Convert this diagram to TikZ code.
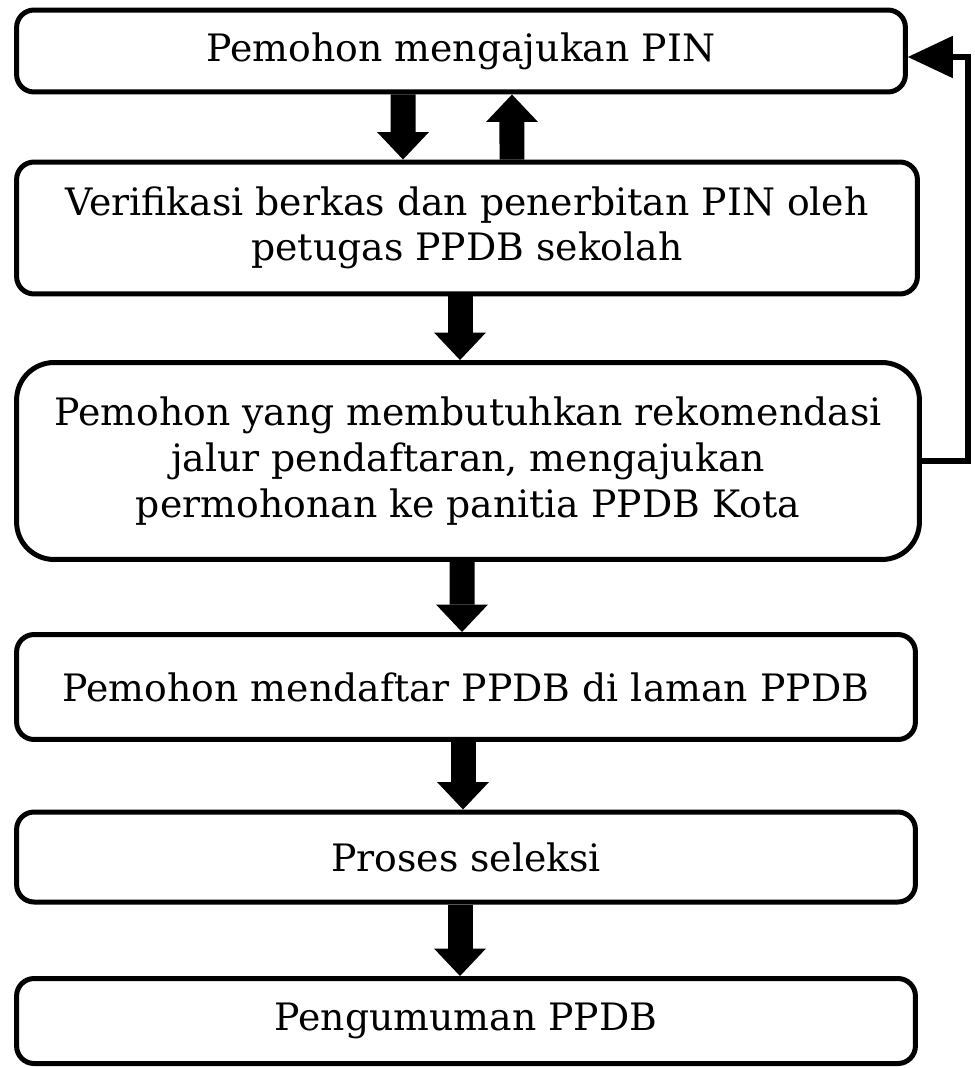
\documentclass[tikz,border=0pt]{standalone}
\usepackage{fontspec}
\setmainfont{DejaVu Serif}
\usetikzlibrary{arrows.meta}
\tikzset{
  box/.style={draw,line width=0.1cm,rounded corners=0.35cm,align=center,
    font=\fontsize{21.5}{26}\selectfont,inner sep=0pt},
  bigarrow/.style={line width=0.5cm,-{Triangle[width=1.04cm,length=0.55cm,line width=0pt]}},
  backline/.style={line width=0.13cm,-{Triangle[width=0.85cm,length=0.9cm,line width=0pt]}}
}
\begin{document}
\begin{tikzpicture}[x=0.02cm,y=-0.02cm]
\useasboundingbox (0,0) rectangle (974,1068);
\node[box,minimum width=17.78cm,minimum height=1.64cm] (pin) at (461,51) {Pemohon mengajukan PIN};
\node[box,minimum width=18.02cm,minimum height=2.64cm] (verif) at (467,228)
  {Verifikasi berkas dan penerbitan PIN oleh\\petugas PPDB sekolah};
\node[box,minimum width=18.06cm,minimum height=3.94cm,rounded corners=0.75cm] (rekom) at (468,461)
  {Pemohon yang membutuhkan rekomendasi\\jalur pendaftaran, mengajukan\\permohonan ke panitia PPDB Kota};
\node[box,minimum width=17.98cm,minimum height=2.1cm] (daftar) at (466,687) {Pemohon mendaftar PPDB di laman PPDB};
\node[box,minimum width=17.98cm,minimum height=1.8cm] (seleksi) at (466,857) {Proses seleksi};
\node[box,minimum width=17.98cm,minimum height=1.7cm] (umum) at (466,1021) {Pengumuman PPDB};
\draw[bigarrow] ([xshift=-1.16cm]pin.south) -- ([xshift=-1.28cm]verif.north);
\draw[bigarrow] ([xshift=0.9cm]verif.north) -- ([xshift=1.02cm]pin.south);
\draw[bigarrow] ([xshift=-0.14cm]verif.south) -- ([xshift=-0.16cm]rekom.north);
\draw[bigarrow] ([xshift=-0.12cm]rekom.south) -- ([xshift=-0.08cm]daftar.north);
\draw[bigarrow] ([xshift=-0.06cm]daftar.south) -- ([xshift=-0.06cm]seleksi.north);
\draw[bigarrow] ([xshift=-0.12cm]seleksi.south) -- ([xshift=-0.12cm]umum.north);
\draw[backline] (rekom.east) -- ++(46,0) |- ([yshift=-0.12cm]pin.east);
\end{tikzpicture}
\end{document}
